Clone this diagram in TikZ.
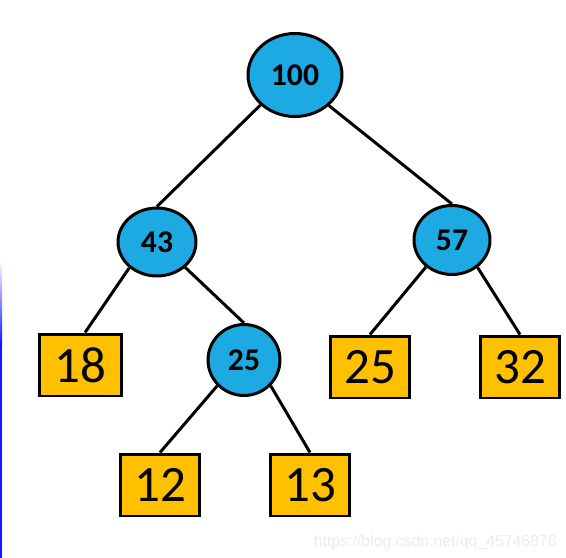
\documentclass[tikz,border=0pt]{standalone}
\usepackage{fontspec}
\setmainfont{Carlito}
\newfontfamily\markfont{Liberation Sans}
\usepackage{tikz}
\usetikzlibrary{shapes.geometric}
\definecolor{NodeBlue}{HTML}{1DA9E1}
\definecolor{LeafGold}{HTML}{FFC000}
\definecolor{EdgeBlue}{HTML}{1414FF}

\begin{document}
\begin{tikzpicture}[x=0.02cm, y=-0.02cm,
    inner/.style={ellipse,draw=black,line width=1.7pt,fill=NodeBlue,inner sep=0pt,
      font=\bfseries\fontsize{18}{19}\selectfont},
    leaf/.style={rectangle,draw=black,line width=1.7pt,fill=LeafGold,inner sep=0pt,
      minimum width=1.6cm,minimum height=1.24cm,font=\fontsize{29}{30}\selectfont},
    edge/.style={line width=1.7pt}]
    \useasboundingbox (0,0) rectangle (566,558);
    % faint blue rule at the left edge
    \shade[top color=white,bottom color=EdgeBlue] (0,260) rectangle (2,345);
    \fill[EdgeBlue] (0,344) rectangle (2,558);
    % internal nodes
    \node[inner,minimum width=1.88cm,minimum height=1.66cm] (n100) at (295,75) {100};
    \node[inner,minimum width=1.56cm,minimum height=1.36cm] (n43) at (157,242) {43};
    \node[inner,minimum width=1.52cm,minimum height=1.38cm] (n57) at (452,240) {57};
    \node[inner,minimum width=1.44cm,minimum height=1.42cm] (n25) at (244,360) {25};
    % leaves
    \node[leaf,minimum width=1.66cm] (l18) at (80.5,365) {18};
    \node[leaf] (l25) at (370,367) {25};
    \node[leaf] (l32) at (520,367) {32};
    \node[leaf] (l12) at (160,485) {12};
    \node[leaf] (l13) at (310,485) {13};
    % edges
    \draw[edge] (n100.221) -- (n43.north);
    \draw[edge] (n100.318) -- (n57.north);
    \draw[edge] (n43.223) -- (l18.82);
    \draw[edge] (n43.318) -- (n25.north);
    \draw[edge] (n25.224) -- (l12.north);
    \draw[edge] (n25.316) -- (l13.north);
    \draw[edge] (n57.226) -- (l25.north);
    \draw[edge] (n57.313) -- (l32.north);
    % watermark
    \node[anchor=base east,inner sep=0pt,text=black!8,font=\markfont\fontsize{9}{10}\selectfont] (mark) at (557,546) {https://blog.csdn.net/qq\_45746876};
  \end{tikzpicture}
\end{document}
